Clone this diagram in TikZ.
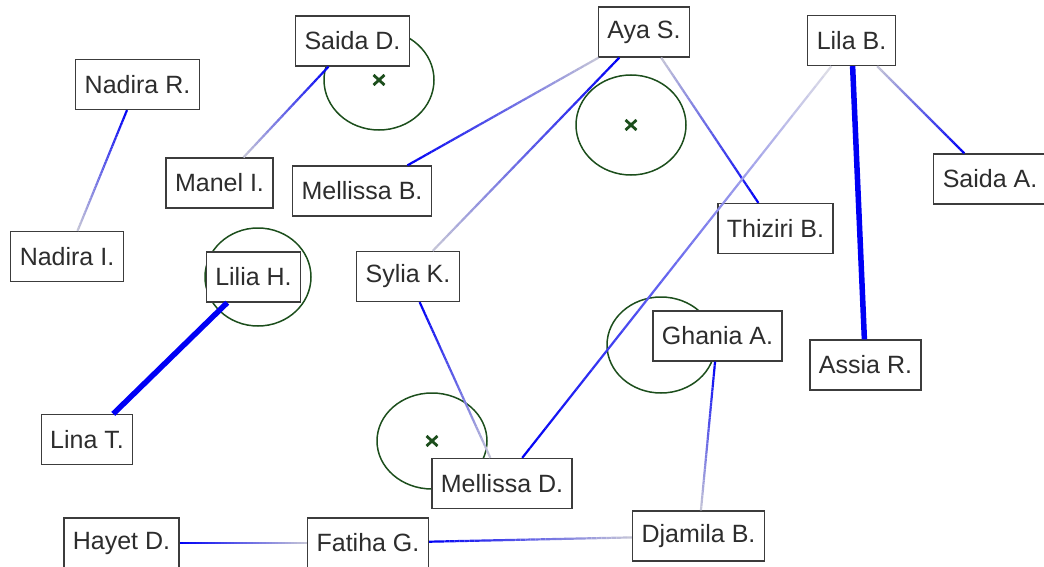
\documentclass[tikz,border=0pt]{standalone}
\usepackage{fontspec}
\setmainfont{Liberation Sans}
\usetikzlibrary{calc}

\definecolor{boxgray}{RGB}{60,60,60}
\definecolor{txtgray}{RGB}{45,45,45}
\definecolor{zone}{RGB}{28,78,28}
\definecolor{pale}{RGB}{200,200,214}
\definecolor{paler}{RGB}{224,224,230}
\definecolor{edgeblue}{RGB}{0,0,245}

\tikzset{
  person/.style={draw=boxgray, line width=1.3pt, fill=white, inner xsep=9pt,
    minimum height=50pt, text=txtgray, font=\fontsize{25}{30}\selectfont},
  zonering/.style={draw=zone, line width=1.5pt},
  zonemark/.style={draw=zone, line width=2.8pt},
  strong/.style={draw=edgeblue, line width=5.5pt},
}

% edge shaded from blue at the first node to a pale colour at the second
\newcommand\gedge[4][2.2pt]{%
  \path (#2) -- (#3) coordinate[pos=0] (ge-s) coordinate[pos=1] (ge-e);
  \foreach \k in {0,...,39}{%
    \pgfmathsetmacro\ga{\k/40}%
    \pgfmathsetmacro\gb{(\k+1)/40}%
    \pgfmathtruncatemacro\gm{100-2.5*\k}%
    \draw[line width=#1, draw=edgeblue!\gm!#4] ($(ge-s)!\ga!(ge-e)$) -- ($(ge-s)!\gb!(ge-e)$);
  }}

% small cross marking the centre of a zone
\newcommand\zonecross[1]{%
  \draw[zonemark] ($(#1)+(-5.5,-5)$) -- ($(#1)+(5.5,5)$);
  \draw[zonemark] ($(#1)+(-5.5,5)$) -- ($(#1)+(5.5,-5)$);}

\begin{document}
\begin{tikzpicture}[x=1pt, y=-1pt]
\useasboundingbox (0,0) rectangle (1044,567);
\clip (0,0) rectangle (1044,567);

% zones
\coordinate (z1) at (379,80);
\coordinate (z2) at (631,125);
\coordinate (z3) at (432,441);
\coordinate (z4) at (258,277);
\coordinate (z5) at (661,345);
\draw[zonering] (z1) ellipse [x radius=55, y radius=50];
\draw[zonering] (z2) ellipse [x radius=55, y radius=50];
\draw[zonering] (z3) ellipse [x radius=55, y radius=48];
\draw[zonering] (z4) ellipse [x radius=53, y radius=49];
\draw[zonering] (z5) ellipse [x radius=54, y radius=48];
\zonecross{z1}
\zonecross{z2}
\zonecross{z3}

% people
\node[person] (nadiraR)   at (137.5,84.5) {Nadira R.};
\node[person] (nadiraI)   at (67,256.5)   {Nadira I.};
\node[person] (saidaD)    at (352.5,41)   {Saida D.};
\node[person] (manel)     at (219.5,183)  {Manel I.};
\node[person] (aya)       at (644,32)     {Aya S.};
\node[person] (mellissaB) at (362,191)    {Mellissa B.};
\node[person] (lila)      at (851.5,40.5) {Lila B.};
\node[person] (saidaA)    at (990,179)    {Saida A.};
\node[person] (thiziri)   at (775.5,228.5){Thiziri B.};
\node[person] (lilia)     at (253.5,277)  {Lilia H.};
\node[person] (sylia)     at (408,276.5)  {Sylia K.};
\node[person] (ghania)    at (717.5,336)  {Ghania A.};
\node[person] (assia)     at (865.5,365)  {Assia R.};
\node[person] (lina)      at (87,439.5)   {Lina T.};
\node[person] (mellissaD) at (502,483.5)  {Mellissa D.};
\node[person] (hayet)     at (121.5,543)  {Hayet D.};
\node[person] (fatiha)    at (368,543)    {Fatiha G.};
\node[person] (djamila)   at (698.5,536)  {Djamila B.};

% links
\gedge{nadiraR}{nadiraI}{pale}
\gedge{saidaD}{manel}{pale}
\gedge{mellissaB}{aya}{pale}
\gedge{aya}{sylia}{pale}
\gedge{thiziri}{aya}{pale}
\gedge{mellissaD}{lila}{paler}
\gedge{saidaA}{lila}{pale}
\gedge{sylia}{mellissaD}{pale}
\gedge{ghania}{djamila}{pale}
\gedge{hayet}{fatiha}{pale}
\gedge{fatiha}{djamila}{pale}
\draw[strong] (lila) -- (assia);
\draw[strong] (lilia) -- (lina);
\end{tikzpicture}
\end{document}
